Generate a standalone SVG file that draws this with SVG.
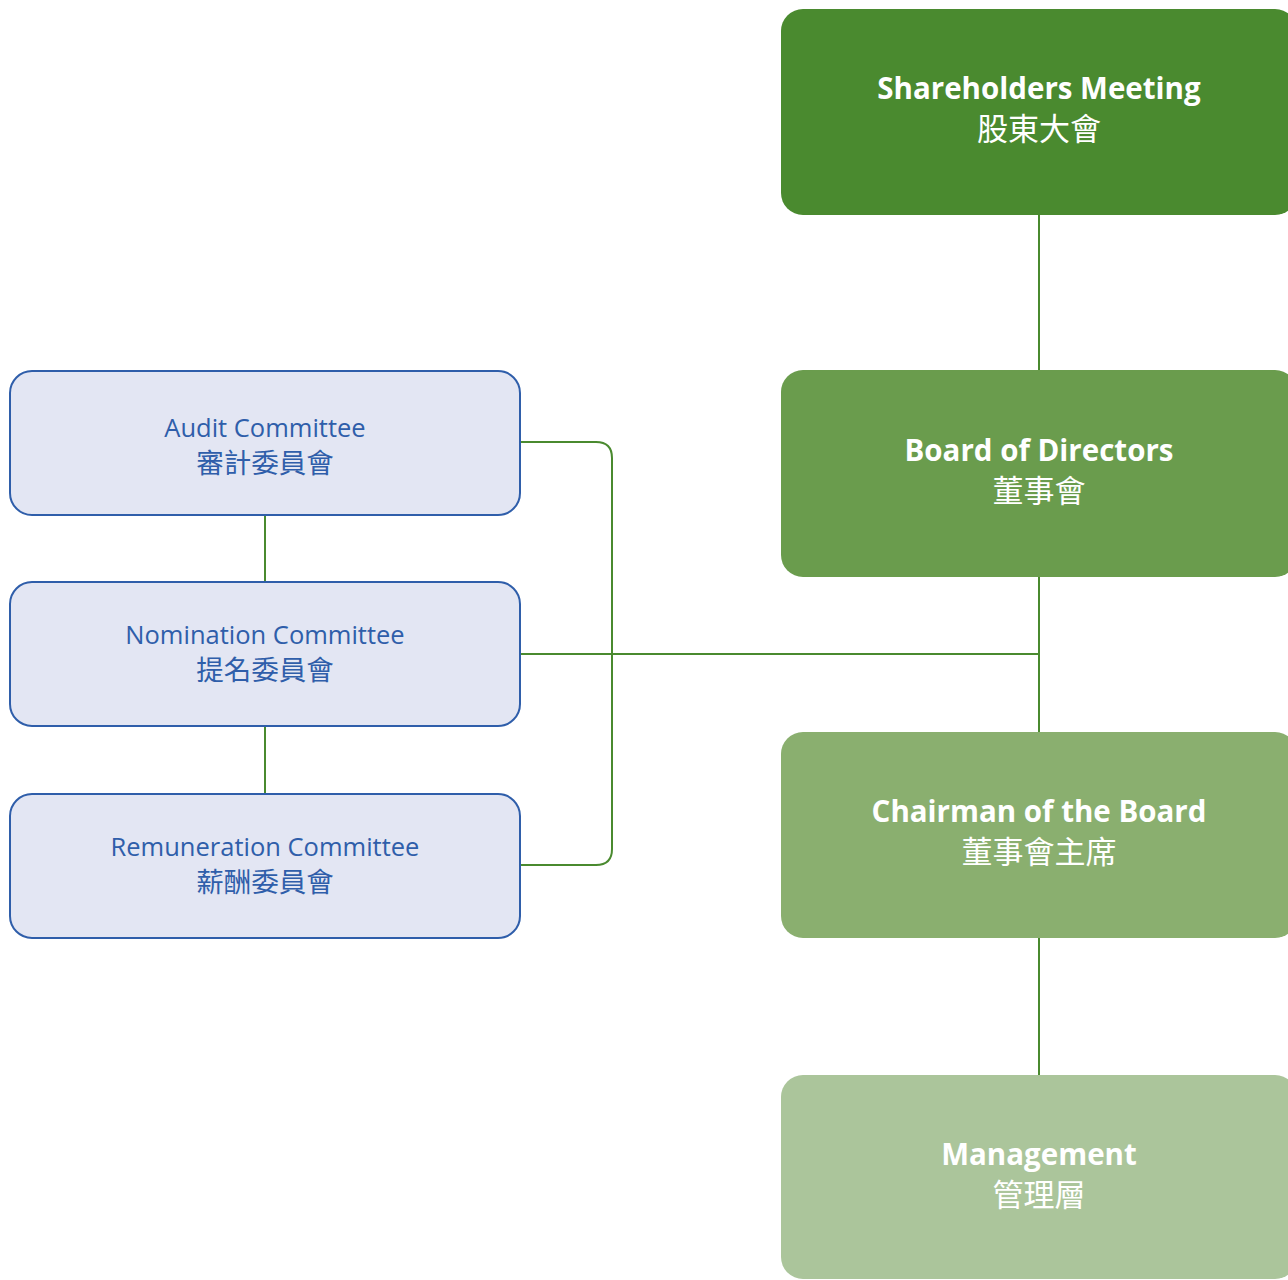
<svg xmlns="http://www.w3.org/2000/svg" width="1288" height="1280" viewBox="0 0 1288 1280">
<style>
.g text{font-family:"Open Sans","Noto Sans CJK TC",sans-serif;fill:#ffffff;text-anchor:middle}
.g .en{font-weight:bold;font-size:29.5px}
.g .zh{font-family:"Noto Sans CJK TC",sans-serif;font-size:31px}
.b rect{fill:#e3e6f3;stroke:#2f5eaa;stroke-width:2}
.b text{font-family:"Open Sans","Noto Sans CJK TC",sans-serif;fill:#2f5eaa;text-anchor:middle;font-size:25.5px}
.b .zh{font-family:"Noto Sans CJK TC",sans-serif;font-size:27.5px}
.conn path{fill:none;stroke:#4a8a2f;stroke-width:2}
</style>
<g class="conn" id="connectors">
<path d="M1039 215V370"/>
<path d="M1039 577V732"/>
<path d="M1039 938V1075"/>
<path d="M520 654H1039"/>
<path d="M265 515V582"/>
<path d="M265 726V794"/>
<path d="M520 442H596Q612 442 612 458V849Q612 865 596 865H520"/>
</g>
<g class="g" id="shareholders">
<rect x="781" y="9" width="516" height="206" rx="22" fill="#4a8a2f"/>
<text class="en" x="1039" y="99">Shareholders Meeting</text>
<text class="zh" x="1039" y="140">股東大會</text>
</g>
<g class="g" id="board">
<rect x="781" y="370" width="516" height="207" rx="22" fill="#6a9c4d"/>
<text class="en" x="1039" y="461">Board of Directors</text>
<text class="zh" x="1039" y="502">董事會</text>
</g>
<g class="g" id="chairman">
<rect x="781" y="732" width="516" height="206" rx="22" fill="#8aaf6f"/>
<text class="en" x="1039" y="822">Chairman of the Board</text>
<text class="zh" x="1039" y="863">董事會主席</text>
</g>
<g class="g" id="management">
<rect x="781" y="1075" width="516" height="204" rx="22" fill="#abc59b"/>
<text class="en" x="1039" y="1165">Management</text>
<text class="zh" x="1039" y="1206">管理層</text>
</g>
<g class="b" id="audit">
<rect x="10" y="371" width="510" height="144" rx="22"/>
<text x="265" y="437">Audit Committee</text>
<text class="zh" x="265" y="473">審計委員會</text>
</g>
<g class="b" id="nomination">
<rect x="10" y="582" width="510" height="144" rx="22"/>
<text x="265" y="644">Nomination Committee</text>
<text class="zh" x="265" y="680">提名委員會</text>
</g>
<g class="b" id="remuneration">
<rect x="10" y="794" width="510" height="144" rx="22"/>
<text x="265" y="856">Remuneration Committee</text>
<text class="zh" x="265" y="892">薪酬委員會</text>
</g>
</svg>
